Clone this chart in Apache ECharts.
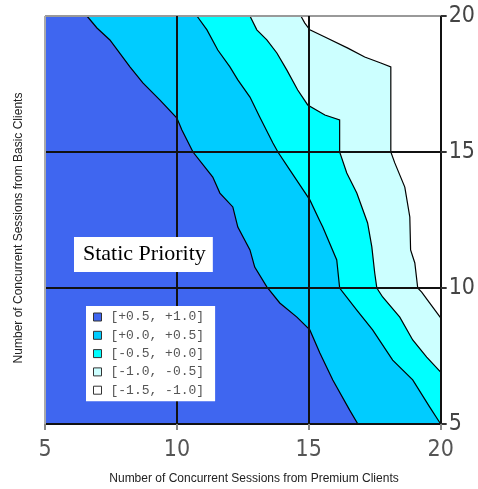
<!DOCTYPE html>
<html><head><meta charset="utf-8">
<script src="https://cdn.jsdelivr.net/npm/echarts@6/dist/echarts.min.js"></script>
<style>html,body{margin:0;padding:0;background:#fff}#c{width:478px;height:489px}</style>
</head><body><div id="c"></div>
<script>
// ---- data ----
const xRange = [5, 20];
const yRange = [5, 20];
const tickStep = 5;
const levelNames = ['[+0.5, +1.0]', '[+0.0, +0.5]', '[-0.5, +0.0]', '[-1.0, -0.5]', '[-1.5, -1.0]'];
const levelColors = ['#3F66F0', '#00CCFF', '#00FFFF', '#CCFFFF', '#FFFFFF'];
const xTitle = 'Number of Concurrent Sessions from Premium Clients';
const yTitle = 'Number of Concurrent Sessions from Basic Clients';
const boxLabel = 'Static Priority';

// contour boundaries [premium, basic]
const boundary1 = [[6.59,20],[6.97,19.56],[7.46,19.12],[8.22,18.13],[8.71,17.54],[9.36,16.91],[10.0,16.25],[10.19,15.81],[10.61,15.0],[11.36,14.08],[11.63,13.49],[12.12,12.98],[12.31,12.24],[12.77,11.40],[12.95,10.77],[13.41,10.04],[13.90,9.45],[14.55,8.93],[15.04,8.46],[15.42,7.61],[15.91,6.62],[16.55,5.51],[16.86,5.0]];
const boundary2 = [[10.76,20],[11.14,19.49],[11.55,18.75],[12.01,18.13],[12.31,17.65],[12.77,17.02],[13.14,16.29],[13.64,15.33],[13.83,15.0],[14.28,14.34],[15.04,13.24],[15.4,12.5],[15.53,12.24],[16.06,11.03],[16.17,10.0],[16.82,9.19],[17.42,8.46],[18.18,7.35],[18.94,6.62],[19.58,5.63],[20,5.0]];
const boundary3 = [[12.77,20],[13.03,19.49],[13.41,19.12],[13.79,18.64],[14.17,18.01],[14.58,17.28],[14.96,16.73],[15.61,16.36],[16.17,16.18],[16.17,15.0],[16.44,14.23],[16.82,13.49],[17.23,12.39],[17.39,11.51],[17.50,10.55],[17.58,10.0],[17.80,9.67],[18.45,8.93],[18.94,8.09],[19.47,7.46],[20,6.91]];
const boundary4 = [[14.70,20],[14.85,19.74],[15.04,19.49],[15.61,19.23],[16.48,18.82],[17.12,18.49],[17.73,18.27],[18.11,18.13],[18.11,15.0],[18.26,14.60],[18.64,13.71],[18.83,12.61],[18.86,11.4],[19.02,10.92],[19.13,10.0],[19.28,9.85],[19.58,9.45],[20,8.90]];
const boundaries = [boundary1, boundary2, boundary3, boundary4];

// ---- build polygons ----
const polys = [];
polys.push([[xRange[0], yRange[0]], [xRange[1], yRange[0]], [xRange[1], yRange[1]], [xRange[0], yRange[1]]]);
boundaries.forEach(b => {
  const p = b.slice();
  const last = b[b.length - 1];
  if (last[1] <= yRange[0] && last[0] < xRange[1]) p.push([xRange[1], yRange[0]]);
  p.push([xRange[1], yRange[1]]);
  polys.push(p);
});

const series = polys.map((pts, i) => ({
  type: 'custom',
  name: levelNames[i],
  coordinateSystem: 'cartesian2d',
  itemStyle: { color: levelColors[i] },
  z: 1,
  silent: true,
  data: [pts[0]],
  renderItem: function (params, api) {
    return {
      type: 'polygon',
      shape: { points: pts.map(p => api.coord(p)) },
      style: { fill: levelColors[i], stroke: null }
    };
  }
}));
series.push({
  type: 'custom',
  name: 'lines',
  coordinateSystem: 'cartesian2d',
  z: 2,
  silent: true,
  data: [boundary1[0]],
  renderItem: function (params, api) {
    return {
      type: 'group',
      children: boundaries.map(b => ({
        type: 'polyline',
        shape: { points: b.map(p => api.coord(p)) },
        style: { stroke: '#000', lineWidth: 1.2, fill: null }
      }))
    };
  }
});

const tickFont = '"Liberation Sans Narrow", "Arial Narrow", "DejaVu Sans Condensed", "Liberation Sans", sans-serif';
const chart = echarts.init(document.getElementById('c'));
chart.setOption({
  animation: false,
  backgroundColor: '#fff',
  grid: { left: 45, top: 16, width: 396, height: 408, containLabel: false },
  title: {
    text: boxLabel, left: 74, top: 237, backgroundColor: '#fff',
    padding: [6, 7, 7, 9], z: 20,
    textStyle: { fontFamily: 'Liberation Serif, Times New Roman, serif', fontSize: 22, fontWeight: 'normal', color: '#000', lineHeight: 22 }
  },
  legend: {
    data: levelNames, orient: 'vertical', left: 86, top: 306,
    backgroundColor: '#fff', padding: [4, 11, 4, 7], itemGap: 4.3,
    itemWidth: 8, itemHeight: 8, icon: 'rect', z: 20,
    selectedMode: false,
    itemStyle: { borderColor: '#333', borderWidth: 1 },
    textStyle: { fontFamily: 'Liberation Mono, Courier New, monospace', fontSize: 13, color: '#555', lineHeight: 14, padding: [0, 0, 0, 4] }
  },
  xAxis: {
    type: 'value', min: xRange[0], max: xRange[1], interval: tickStep, z: 10,
    axisLine: { show: false },
    axisTick: { show: true, length: 6, lineStyle: { color: '#888', width: 2 } },
    axisLabel: { fontFamily: tickFont, fontSize: 23, color: '#555', margin: 15 },
    splitLine: { show: true, lineStyle: { color: ['#aaa', '#111', '#111', '#111'], width: 2 } }
  },
  yAxis: {
    type: 'value', position: 'right', min: yRange[0], max: yRange[1], interval: tickStep, z: 10,
    axisLine: { show: false },
    axisTick: { show: true, length: 6, lineStyle: { color: '#333', width: 2 } },
    axisLabel: { fontFamily: tickFont, fontSize: 23, color: '#444', margin: 8 },
    splitLine: { show: true, lineStyle: { color: ['#111', '#111', '#111', '#999'], width: 2 } }
  },
  graphic: [
    { type: 'text', x: 254, y: 479, z: 20,
      style: { text: xTitle, align: 'center', verticalAlign: 'middle', fill: '#222', font: '12px "Liberation Sans", Arial, sans-serif' } },
    { type: 'text', x: 19, y: 228, rotation: Math.PI / 2, z: 20,
      style: { text: yTitle, align: 'center', verticalAlign: 'middle', fill: '#222', font: '12px "Liberation Sans", Arial, sans-serif' } }
  ],
  series: series
});
</script>
</body></html>
